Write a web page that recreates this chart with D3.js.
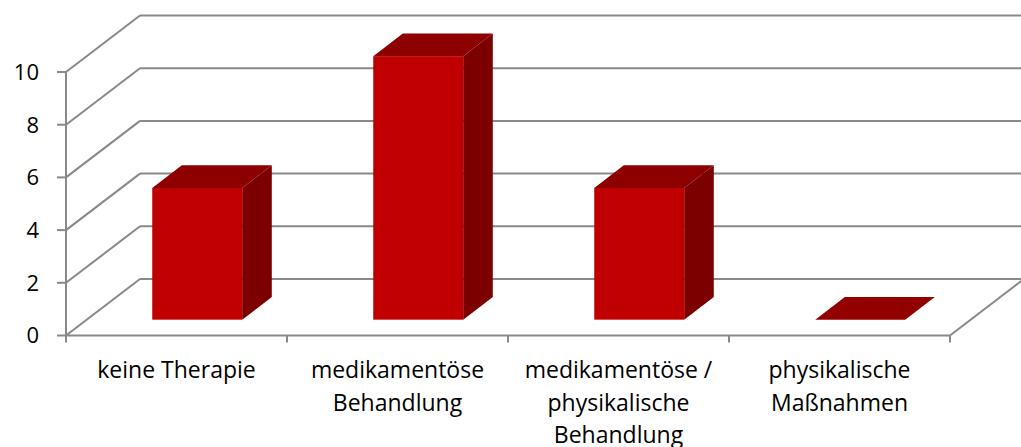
<!DOCTYPE html>
<html>
<head>
<meta charset="utf-8">
<script src="https://cdn.jsdelivr.net/npm/d3@7"></script>
<style>
  html, body { margin: 0; padding: 0; background: #fff; }
  svg { display: block; font-family: "Open Sans", sans-serif; }
</style>
</head>
<body>
<svg id="chart" width="1021" height="447"></svg>
<script>
// Daten
const categories = [
  ["keine Therapie"],
  ["medikamentöse", "Behandlung"],
  ["medikamentöse /", "physikalische", "Behandlung"],
  ["physikalische", "Maßnahmen"]
];
const values = [5, 10, 5, 0];
const yTicks = [0, 2, 4, 6, 8, 10];

const svg = d3.select("#chart");

// Skalen
const x = d3.scaleBand()
  .domain(d3.range(categories.length))
  .range([66, 950])
  .paddingInner(0);
const y = d3.scaleLinear().domain([0, 10]).range([335.5, 72]);

// Tiefe: z von 0 (vorne) bis 1 (hinten)
const depth = { dx: 74, dy: -56.5 };
const zx = z => z * depth.dx;
const zy = z => z * depth.dy;

const gridColor = "#898989";
const grid = svg.append("g")
  .attr("fill", "none")
  .attr("stroke", gridColor)
  .attr("stroke-width", 2);

// Rückwand-Gitterlinien
grid.selectAll(".back")
  .data(yTicks)
  .enter().append("line")
  .attr("x1", x.range()[0] + zx(1))
  .attr("x2", x.range()[1] + zx(1) + 5)
  .attr("y1", d => y(d) + zy(1))
  .attr("y2", d => y(d) + zy(1));

// Seitenwand-Diagonalen
grid.selectAll(".side")
  .data(yTicks)
  .enter().append("line")
  .attr("x1", x.range()[0])
  .attr("x2", x.range()[0] + zx(1))
  .attr("y1", d => y(d))
  .attr("y2", d => y(d) + zy(1));

// Y-Achse vorne
grid.append("line")
  .attr("x1", x.range()[0]).attr("x2", x.range()[0])
  .attr("y1", y(10)).attr("y2", y(0));

// Boden vorne und rechts
grid.append("line")
  .attr("x1", x.range()[0]).attr("x2", x.range()[1])
  .attr("y1", y(0)).attr("y2", y(0));
grid.append("line")
  .attr("x1", x.range()[1]).attr("x2", x.range()[1] + zx(1))
  .attr("y1", y(0)).attr("y2", y(0) + zy(1));

// Y-Ticks
grid.selectAll(".ytick")
  .data(yTicks)
  .enter().append("line")
  .attr("x1", x.range()[0] - 9).attr("x2", x.range()[0])
  .attr("y1", d => y(d)).attr("y2", d => y(d));

// X-Ticks
const xEdges = d3.range(categories.length + 1).map(i =>
  i < categories.length ? x(i) : x.range()[1]);
grid.selectAll(".xtick")
  .data(xEdges)
  .enter().append("line")
  .attr("x1", d => d).attr("x2", d => d)
  .attr("y1", y(0)).attr("y2", y(0) + 7);

// Balken (3D)
const z0 = 0.28, z1 = 0.68;
const barW = x.bandwidth() * 0.407;
const pts = a => a.map(p => p.join(",")).join(" ");

const bars = svg.append("g").selectAll("g")
  .data(values)
  .enter().append("g");

bars.each(function (v, i) {
  const g = d3.select(this);
  const xl = x(i) + x.bandwidth() / 2 - barW / 2 + zx(z0);
  const xr = xl + barW;
  const yb = y(0) + zy(z0);
  const yt = y(v) + zy(z0);
  const ddx = zx(z1 - z0), ddy = zy(z1 - z0);
  if (v > 0) {
    // Seite
    g.append("polygon")
      .attr("points", pts([[xr, yt], [xr + ddx, yt + ddy], [xr + ddx, yb + ddy], [xr, yb]]))
      .attr("fill", "#7c0000");
    // Vorderseite
    g.append("rect")
      .attr("x", xl).attr("y", yt)
      .attr("width", barW).attr("height", yb - yt)
      .attr("fill", "#c00000");
  }
  // Oberseite
  g.append("polygon")
    .attr("points", pts([[xl, yt], [xl + ddx, yt + ddy], [xr + ddx, yt + ddy], [xr, yt]]))
    .attr("fill", v > 0 ? "#8e0000" : "#930000");
});

// Y-Beschriftungen
svg.append("g").selectAll("text")
  .data(yTicks)
  .enter().append("text")
  .attr("x", 39)
  .attr("y", d => y(d) + 2)
  .attr("text-anchor", "end")
  .attr("dominant-baseline", "middle")
  .attr("font-size", 22)
  .attr("fill", "#000")
  .text(d => d);

// X-Beschriftungen
const xl = svg.append("g").selectAll("text")
  .data(categories)
  .enter().append("text")
  .attr("text-anchor", "middle")
  .attr("font-size", 23)
  .attr("fill", "#000");

xl.selectAll("tspan")
  .data((d, i) => d.map(s => ({ s, i })))
  .enter().append("tspan")
  .attr("x", d => x(d.i) + x.bandwidth() / 2)
  .attr("y", (d, j) => 378 + j * 32.5)
  .text(d => d.s);
</script>
</body>
</html>
